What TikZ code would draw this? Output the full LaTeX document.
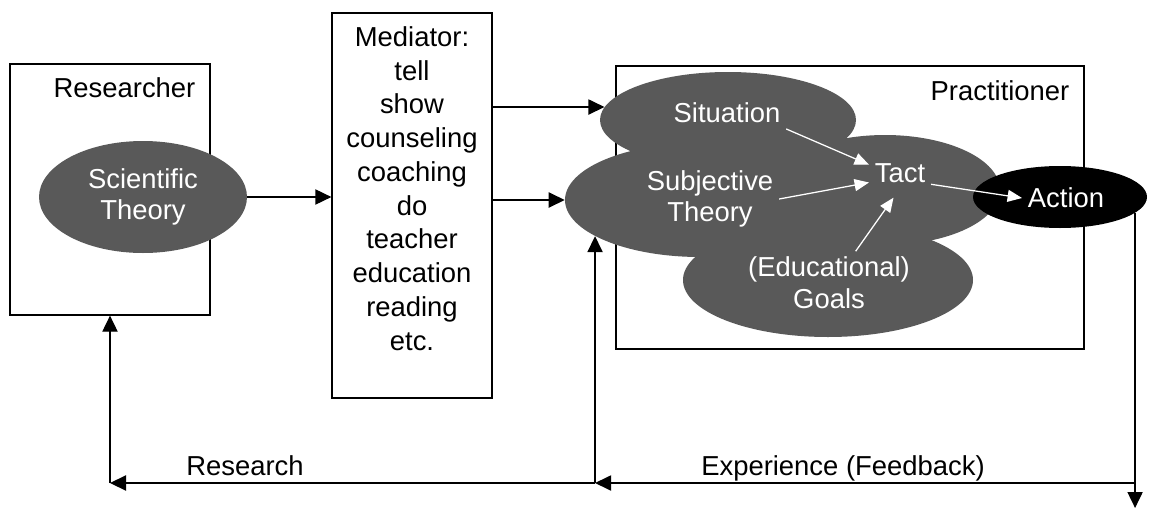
\documentclass[tikz,border=0pt]{standalone}
\usepackage{fontspec}
\setmainfont{Liberation Sans}
\usepackage{xcolor}
\definecolor{cloudgray}{HTML}{595959}
\usetikzlibrary{shapes.geometric, arrows.meta, positioning}

\begin{document}
\begin{tikzpicture}[
  font=\fontsize{19.5}{22.5}\selectfont,
  frame/.style={rectangle, draw=black, line width=0.9pt},
  blob/.style={ellipse, fill=cloudgray, draw=none},
  ctext/.style={text=white, align=center, inner sep=4pt},
  lbl/.style={inner sep=0pt},
  arrow/.style={-{Triangle[length=0.4cm,width=0.38cm]}, line width=0.9pt},
  warrow/.style={-{Triangle[length=0.36cm,width=0.3cm]}, line width=0.9pt, white},
  line/.style={line width=0.9pt}
]
\useasboundingbox (0,0) rectangle (28.8,-12.725);

% the three frames
\node[frame, minimum width=5cm, minimum height=6.275cm] (researcher) at (2.75,-4.7375) {};
\node[frame, minimum width=4cm, minimum height=9.625cm] (mediator) at (10.3,-5.1375) {};
\node[frame, minimum width=11.7cm, minimum height=7.075cm] (practitioner) at (21.25,-5.1875) {};
\node[lbl, below left=0.35cm and 0.375cm of researcher.north east] (researcherlbl) {Researcher};
\node[lbl, below left=0.37cm and 0.375cm of practitioner.north east] (practitionerlbl) {Practitioner};

% cloud of the practitioner
\node[blob, minimum width=6.4cm, minimum height=2.4cm] (sit) at (18.2,-3) {};
\node[blob, minimum width=6.75cm, minimum height=2.85cm] (subj) at (17.5,-5) {};
\node[blob, minimum width=5.75cm, minimum height=2.75cm] (tactblob) at (22.125,-4.75) {};
\node[blob, minimum width=7.25cm, minimum height=2.85cm] (goals) at (20.7,-7) {};
\node[ellipse, fill=black, minimum width=4.35cm, minimum height=1.55cm] (actblob) at (26.5,-4.925) {};
\node[blob, minimum width=5.2cm, minimum height=2.8cm] (sci) at (3.575,-4.925) {};

% texts
\node[ctext] (scitext) at (sci) {Scientific\\Theory};
\node[align=center, font=\fontsize{19.5}{24}\selectfont] (medtext) at (10.3,-4.7125)
  {Mediator:\\tell\\show\\counseling\\coaching\\do\\teacher\\education\\reading\\etc.};
\node[ctext] (sittext) at (18.175,-2.825) {Situation};
\node[ctext] (subjtext) at (17.75,-4.975) {Subjective\\Theory};
\node[ctext] (tact) at (22.5,-4.325) {Tact};
\node[ctext] (goalstext) at (20.725,-7.075) {(Educational)\\Goals};
\node[ctext] (action) at (26.65,-4.95) {Action};

% inner arrows
\draw[warrow] (sittext.south east) -- (tact.165);
\draw[warrow] (subjtext.east) -- (tact.197);
\draw[warrow, shorten >=8pt] (goalstext.50) -- (tact.south);
\draw[warrow] (tact.-20) -- (action.west);

% flow to the practitioner
\draw[arrow] (sci.east) -- (sci.east -| mediator.west);
\draw[arrow] (mediator.east |- sit.174) -- (sit.174);
\draw[arrow] (mediator.east |- subj.west) -- (subj.west);

% feedback loop
\coordinate (corner) at (actblob.-12 |- 0,-12.075);
\coordinate (exit) at (corner |- 0,-12.7);
\coordinate (fbmid) at (subj.199 |- corner);
\coordinate (rsmid) at (researcher.south |- corner);
\draw[line] (actblob.-12) -- (corner);
\draw[arrow] (corner) -- (exit);
\draw[arrow] (corner) -- (fbmid);
\draw[arrow] (fbmid) -- (rsmid);
\draw[arrow] (fbmid) -- (subj.199);
\draw[arrow] (rsmid) -- (researcher.south);
\node[lbl, anchor=base] (research) at (6.125,-11.875) {Research};
\node[lbl, anchor=base] (experience) at (21.075,-11.875) {Experience (Feedback)};
\end{tikzpicture}
\end{document}
